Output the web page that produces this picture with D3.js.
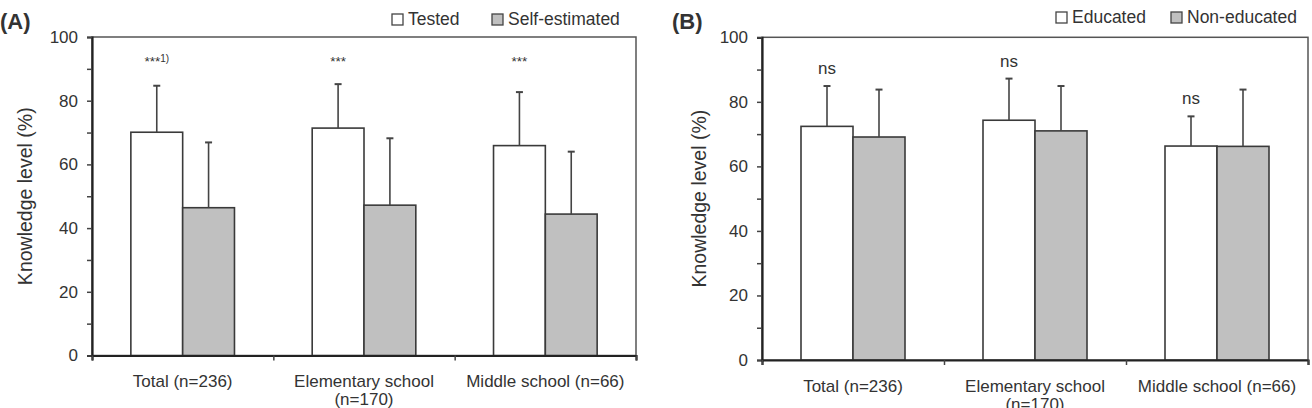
<!DOCTYPE html>
<html>
<head>
<meta charset="utf-8">
<script src="https://cdn.jsdelivr.net/npm/d3@7"></script>
<style>
  body { margin: 0; background: #fff; }
  text { font-family: "Liberation Sans", Arial, sans-serif; fill: #333; }
</style>
</head>
<body>
<svg id="chart" width="1312" height="408"></svg>
<script>
// categories (multi-line labels)
const categories = [["Total (n=236)"], ["Elementary school", "(n=170)"], ["Middle school (n=66)"]];

// panel A
const seriesA = ["Tested", "Self-estimated"];
const testedMean = [70.1, 71.4, 65.9];
const testedSD = [14.6, 13.8, 16.8];
const selfMean = [46.4, 47.2, 44.4];
const selfSD = [20.5, 21.0, 19.6];
const sigA = ["***", "***", "***"];
const footA = ["1)", "", ""];

// panel B
const seriesB = ["Educated", "Non-educated"];
const eduMean = [72.4, 74.3, 66.3];
const eduSD = [12.5, 12.9, 9.2];
const nonEduMean = [69.1, 71.0, 66.2];
const nonEduSD = [14.7, 13.9, 17.6];
const sigB = ["ns", "ns", "ns"];

const majorTicks = [0, 20, 40, 60, 80, 100];
const minorTicks = [10, 30, 50, 70, 90];
const fills = ["#ffffff", "#c0c0c0"];

let svg = d3.select("#chart");

function drawPanel(p) {
    let g = svg.append("g");

    let y = d3.scaleLinear().domain([0, 100]).range([p.bottom, p.top]);
    let x0 = d3.scaleBand().domain(d3.range(categories.length)).range([p.left, p.right]);
    let x1 = d3.scaleBand().domain(p.series).range([0, x0.bandwidth()]).paddingOuter(0.75);
    let xb = d3.scaleLinear().domain([0, categories.length]).range([p.left, p.right]);

    // frame
    g.append("rect")
        .attr("x", p.left).attr("y", p.top)
        .attr("width", p.right - p.left).attr("height", p.bottom - p.top)
        .attr("fill", "none").attr("stroke", "#555").attr("stroke-width", 1.5);

    // bars + error bars
    let rows = [];
    for (let i = 0; i < categories.length; i++) {
        for (let s = 0; s < p.series.length; s++) {
            rows.push({i: i, s: s, key: p.series[s], mean: p.means[s][i], sd: p.sds[s][i]});
        }
    }

    g.selectAll("rect.bar").data(rows).enter()
        .append("rect").attr("class", "bar")
        .attr("x", d => x0(d.i) + x1(d.key))
        .attr("y", d => y(d.mean))
        .attr("width", x1.bandwidth())
        .attr("height", d => y(0) - y(d.mean))
        .attr("fill", d => fills[d.s])
        .attr("stroke", "#3a3a3a").attr("stroke-width", 1.6);

    let cx = d => x0(d.i) + x1(d.key) + x1.bandwidth() / 2;
    g.selectAll("line.err").data(rows).enter()
        .append("line").attr("class", "err")
        .attr("x1", cx).attr("x2", cx)
        .attr("y1", d => y(d.mean)).attr("y2", d => y(d.mean + d.sd))
        .attr("stroke", "#444").attr("stroke-width", 1.6);
    g.selectAll("line.cap").data(rows).enter()
        .append("line").attr("class", "cap")
        .attr("x1", d => cx(d) - 3.5).attr("x2", d => cx(d) + 3.5)
        .attr("y1", d => y(d.mean + d.sd)).attr("y2", d => y(d.mean + d.sd))
        .attr("stroke", "#444").attr("stroke-width", 2);

    // y axis
    let ya = g.append("g").attr("transform", "translate(" + p.left + ",0)")
        .call(d3.axisLeft(y).tickValues(majorTicks).tickSize(5).tickPadding(9));
    ya.select(".domain").attr("stroke", "#222").attr("stroke-width", 2.2);
    ya.selectAll(".tick line").attr("stroke", "#444").attr("stroke-width", 1.5);
    ya.selectAll(".tick text").attr("font-size", 17).attr("font-family", null).attr("fill", "#333");
    let ym = g.append("g").attr("transform", "translate(" + p.left + ",0)")
        .call(d3.axisLeft(y).tickValues(minorTicks).tickSize(5).tickFormat(""));
    ym.select(".domain").remove();
    ym.selectAll(".tick line").attr("stroke", "#444").attr("stroke-width", 1.5);

    // x axis
    let xa = g.append("g").attr("transform", "translate(0," + p.bottom + ")")
        .call(d3.axisBottom(xb).tickValues(d3.range(categories.length + 1)).tickSize(5).tickFormat(""));
    xa.select(".domain").attr("stroke", "#222").attr("stroke-width", 2.2);
    xa.selectAll(".tick line").attr("stroke", "#444").attr("stroke-width", 1.5);

    // category labels
    let lab = g.selectAll("text.cat").data(categories).enter()
        .append("text").attr("class", "cat")
        .attr("text-anchor", "middle")
        .attr("font-size", 17)
        .attr("x", (d, i) => x0(i) + x0.bandwidth() / 2)
        .attr("y", p.bottom + p.labelDy);
    lab.selectAll("tspan").data(d => d).enter()
        .append("tspan")
        .attr("x", function () { return this.parentNode.getAttribute("x"); })
        .attr("dy", (d, k) => k === 0 ? 0 : 18)
        .text(d => d);

    // y title
    g.append("text")
        .attr("transform", "translate(" + p.titleX + "," + ((p.top + p.bottom) / 2) + ") rotate(-90)")
        .attr("text-anchor", "middle")
        .attr("font-size", 19.5)
        .text("Knowledge level (%)");

    // panel letter
    g.append("text")
        .attr("x", p.letterX).attr("y", 29)
        .attr("font-size", 22).attr("font-weight", "bold")
        .attr("fill", "#111")
        .text(p.letter);

    // legend
    p.series.forEach((s, k) => {
        g.append("rect")
            .attr("x", p.legendX[k]).attr("y", p.legendY - 11)
            .attr("width", 11).attr("height", 11)
            .attr("fill", fills[k]).attr("stroke", "#444").attr("stroke-width", 1.3);
        g.append("text")
            .attr("x", p.legendX[k] + 16).attr("y", p.legendY)
            .attr("font-size", 17.5)
            .text(s);
    });

    return {g: g, x0: x0, x1: x1, y: y};
}

// ---- panel A
let A = drawPanel({
    left: 92, right: 636, top: 37, bottom: 355.5,
    series: seriesA, means: [testedMean, selfMean], sds: [testedSD, selfSD],
    labelDy: 31, titleX: 32, letter: "(A)", letterX: 0,
    legendX: [392, 492], legendY: 25
});
let sa = A.g.selectAll("text.sig").data(sigA).enter()
    .append("text").attr("class", "sig")
    .attr("text-anchor", "middle")
    .attr("font-size", 13.5)
    .attr("x", (d, i) => A.x0(i) + A.x1(seriesA[0]) + A.x1.bandwidth() / 2)
    .attr("y", A.y(91));
sa.append("tspan").text(d => d);
sa.append("tspan").attr("font-size", 10).attr("dy", -4).text((d, i) => footA[i]);

// ---- panel B
let B = drawPanel({
    left: 762, right: 1308, top: 37.3, bottom: 360,
    series: seriesB, means: [eduMean, nonEduMean], sds: [eduSD, nonEduSD],
    labelDy: 32, titleX: 706, letter: "(B)", letterX: 672,
    legendX: [1056, 1171], legendY: 23
});
B.g.selectAll("text.sig").data(sigB).enter()
    .append("text").attr("class", "sig")
    .attr("text-anchor", "middle")
    .attr("font-size", 17)
    .attr("x", (d, i) => B.x0(i) + B.x1(seriesB[0]) + B.x1.bandwidth() / 2)
    .attr("y", (d, i) => B.y(eduMean[i] + eduSD[i]) - 12)
    .text(d => d);
</script>
</body>
</html>
